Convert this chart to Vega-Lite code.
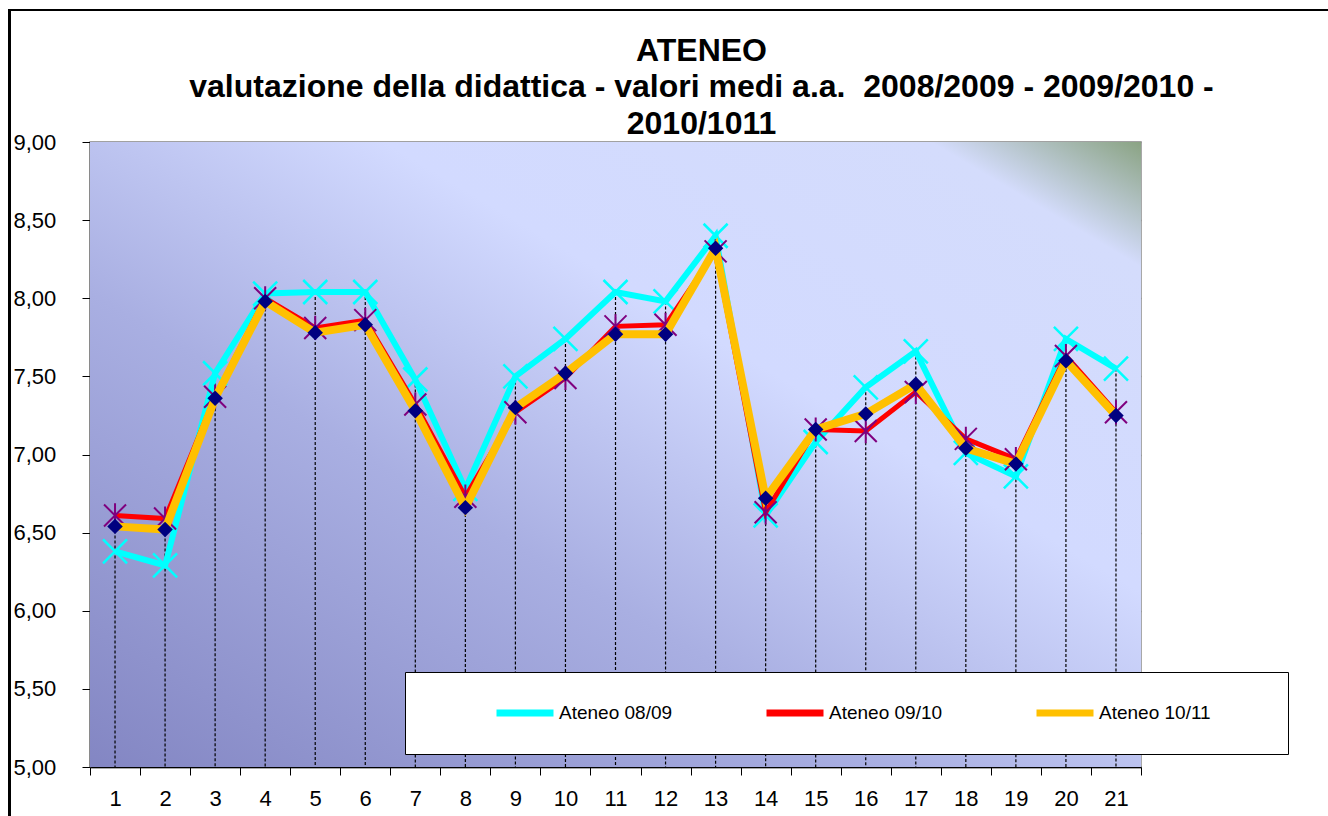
{
  "$schema": "https://vega.github.io/schema/vega-lite/v6.json",
  "autosize": {"type": "none"},
  "padding": {"left": 90, "top": 142, "right": 187, "bottom": 49},
  "width": 1051,
  "height": 625,
  "background": "white",
  "title": {
    "text": ["ATENEO", "valutazione della didattica - valori medi a.a. \u00a02008/2009 - 2009/2010 -", "2010/1011"],
    "font": "Liberation Sans",
    "fontSize": 32,
    "fontWeight": "bold",
    "color": "black",
    "lineHeight": 36.5,
    "anchor": "middle",
    "frame": "group",
    "dx": 86,
    "offset": 0,
    "dy": 132
  },
  "config": {
    "view": {"stroke": "#8c8c8c", "strokeWidth": 1.5},
    "axis": {"labelFont": "Liberation Sans", "titleFont": "Liberation Sans"}
  },
  "datasets": {
    "d": [
      {"x": 1, "serie": "Ateneo 08/09", "v": 6.38}, {"x": 2, "serie": "Ateneo 08/09", "v": 6.29}, {"x": 3, "serie": "Ateneo 08/09", "v": 7.52},
      {"x": 4, "serie": "Ateneo 08/09", "v": 8.03}, {"x": 5, "serie": "Ateneo 08/09", "v": 8.04}, {"x": 6, "serie": "Ateneo 08/09", "v": 8.04},
      {"x": 7, "serie": "Ateneo 08/09", "v": 7.48}, {"x": 8, "serie": "Ateneo 08/09", "v": 6.78}, {"x": 9, "serie": "Ateneo 08/09", "v": 7.50},
      {"x": 10, "serie": "Ateneo 08/09", "v": 7.74}, {"x": 11, "serie": "Ateneo 08/09", "v": 8.04}, {"x": 12, "serie": "Ateneo 08/09", "v": 7.98},
      {"x": 13, "serie": "Ateneo 08/09", "v": 8.40}, {"x": 14, "serie": "Ateneo 08/09", "v": 6.61}, {"x": 15, "serie": "Ateneo 08/09", "v": 7.08},
      {"x": 16, "serie": "Ateneo 08/09", "v": 7.43}, {"x": 17, "serie": "Ateneo 08/09", "v": 7.66}, {"x": 18, "serie": "Ateneo 08/09", "v": 7.01},
      {"x": 19, "serie": "Ateneo 08/09", "v": 6.86}, {"x": 20, "serie": "Ateneo 08/09", "v": 7.74}, {"x": 21, "serie": "Ateneo 08/09", "v": 7.55},
      {"x": 1, "serie": "Ateneo 09/10", "v": 6.61}, {"x": 2, "serie": "Ateneo 09/10", "v": 6.59}, {"x": 3, "serie": "Ateneo 09/10", "v": 7.37},
      {"x": 4, "serie": "Ateneo 09/10", "v": 8.00}, {"x": 5, "serie": "Ateneo 09/10", "v": 7.81}, {"x": 6, "serie": "Ateneo 09/10", "v": 7.86},
      {"x": 7, "serie": "Ateneo 09/10", "v": 7.32}, {"x": 8, "serie": "Ateneo 09/10", "v": 6.73}, {"x": 9, "serie": "Ateneo 09/10", "v": 7.27},
      {"x": 10, "serie": "Ateneo 09/10", "v": 7.49}, {"x": 11, "serie": "Ateneo 09/10", "v": 7.82}, {"x": 12, "serie": "Ateneo 09/10", "v": 7.83},
      {"x": 13, "serie": "Ateneo 09/10", "v": 8.30}, {"x": 14, "serie": "Ateneo 09/10", "v": 6.63}, {"x": 15, "serie": "Ateneo 09/10", "v": 7.16},
      {"x": 16, "serie": "Ateneo 09/10", "v": 7.15}, {"x": 17, "serie": "Ateneo 09/10", "v": 7.40}, {"x": 18, "serie": "Ateneo 09/10", "v": 7.10},
      {"x": 19, "serie": "Ateneo 09/10", "v": 6.97}, {"x": 20, "serie": "Ateneo 09/10", "v": 7.63}, {"x": 21, "serie": "Ateneo 09/10", "v": 7.27},
      {"x": 1, "serie": "Ateneo 10/11", "v": 6.54}, {"x": 2, "serie": "Ateneo 10/11", "v": 6.52}, {"x": 3, "serie": "Ateneo 10/11", "v": 7.36},
      {"x": 4, "serie": "Ateneo 10/11", "v": 7.98}, {"x": 5, "serie": "Ateneo 10/11", "v": 7.78}, {"x": 6, "serie": "Ateneo 10/11", "v": 7.83},
      {"x": 7, "serie": "Ateneo 10/11", "v": 7.28}, {"x": 8, "serie": "Ateneo 10/11", "v": 6.66}, {"x": 9, "serie": "Ateneo 10/11", "v": 7.30},
      {"x": 10, "serie": "Ateneo 10/11", "v": 7.52}, {"x": 11, "serie": "Ateneo 10/11", "v": 7.77}, {"x": 12, "serie": "Ateneo 10/11", "v": 7.77},
      {"x": 13, "serie": "Ateneo 10/11", "v": 8.32}, {"x": 14, "serie": "Ateneo 10/11", "v": 6.72}, {"x": 15, "serie": "Ateneo 10/11", "v": 7.16},
      {"x": 16, "serie": "Ateneo 10/11", "v": 7.26}, {"x": 17, "serie": "Ateneo 10/11", "v": 7.45}, {"x": 18, "serie": "Ateneo 10/11", "v": 7.04},
      {"x": 19, "serie": "Ateneo 10/11", "v": 6.94}, {"x": 20, "serie": "Ateneo 10/11", "v": 7.60}, {"x": 21, "serie": "Ateneo 10/11", "v": 7.25}
    ]
  },
  "data": {"name": "d"},
  "encoding": {
    "x": {
      "field": "x", "type": "quantitative",
      "scale": {"domain": [0.5, 21.5], "nice": false, "zero": false},
      "axis": {
        "title": null,
        "values": [0.5, 1.5, 2.5, 3.5, 4.5, 5.5, 6.5, 7.5, 8.5, 9.5, 10.5, 11.5, 12.5, 13.5, 14.5, 15.5, 16.5, 17.5, 18.5, 19.5, 20.5, 21.5],
        "labelExpr": "datum.value < 21 ? format(datum.value + 0.5, 'd') : ''",
        "labelOffset": 25,
        "labelFlush": false,
        "labelOverlap": false,
        "labelFontSize": 22,
        "labelColor": "black",
        "labelPadding": 13,
        "tickSize": 8,
        "tickColor": "black",
        "domainColor": "black",
        "domainWidth": 1.5,
        "grid": false
      }
    },
    "y": {
      "field": "v", "type": "quantitative",
      "scale": {"domain": [5, 9], "nice": false, "zero": false},
      "axis": {
        "title": null,
        "values": [5, 5.5, 6, 6.5, 7, 7.5, 8, 8.5, 9],
        "labelExpr": "replace(format(datum.value, '.2f'), '.', ',')",
        "labelAlign": "left",
        "labelPadding": 69,
        "labelFontSize": 22,
        "labelColor": "black",
        "tickSize": 8,
        "tickColor": "black",
        "domainColor": "#333333",
        "domainWidth": 1.5,
        "grid": true,
        "gridColor": "#8c8c8c",
        "gridWidth": 1.5
      }
    }
  },
  "layer": [
    {
      "mark": {
        "type": "rect",
        "fill": {
          "gradient": "linear", "x1": 0, "y1": 1, "x2": 1, "y2": 0,
          "stops": [
            {"offset": 0, "color": "#8386c3"},
            {"offset": 0.38, "color": "#a9afe2"},
            {"offset": 0.64, "color": "#d2daff"},
            {"offset": 0.9, "color": "#d4dcfc"},
            {"offset": 1, "color": "#8aa383"}
          ]
        }
      },
      "encoding": {
        "x": {"datum": 0.5, "type": "quantitative"},
        "x2": {"datum": 21.5},
        "y": {"datum": 5, "type": "quantitative"},
        "y2": {"datum": 9}
      }
    },
    {
      "transform": [{"aggregate": [{"op": "max", "field": "v", "as": "vmax"}], "groupby": ["x"]}],
      "mark": {"type": "rule", "color": "black", "strokeWidth": 1.2, "strokeDash": [3, 2]},
      "encoding": {
        "y": {"field": "vmax", "type": "quantitative"},
        "y2": {"datum": 5}
      }
    },
    {
      "transform": [{"filter": "datum.serie == 'Ateneo 08/09'"}],
      "mark": {"type": "line", "strokeWidth": 6},
      "encoding": {
        "color": {
          "field": "serie", "type": "nominal",
          "scale": {"domain": ["Ateneo 08/09", "Ateneo 09/10", "Ateneo 10/11"], "range": ["#00ffff", "#ff0000", "#ffc000"]},
          "legend": {
            "orient": "none",
            "legendX": 315,
            "legendY": 530,
            "direction": "horizontal",
            "fillColor": "white",
            "strokeColor": "black",
            "padding": 29,
            "clipHeight": 24,
            "title": " ",
            "titleOrient": "left",
            "titlePadding": 59,
            "titleFontSize": 18,
            "symbolType": "stroke",
            "symbolSize": 3249,
            "symbolStrokeWidth": 7,
            "labelFont": "Liberation Sans",
            "labelFontSize": 19,
            "labelColor": "black",
            "labelOffset": 2,
            "labelLimit": 400,
            "columnPadding": 90,
            "labelExpr": "indexof(datum.label, '10/11') >= 0 ? datum.label + '\u00a0\u00a0\u00a0\u00a0\u00a0\u00a0\u00a0\u00a0\u00a0\u200b' : datum.label"
          }
        }
      }
    },
    {
      "transform": [{"filter": "datum.serie == 'Ateneo 08/09'"}],
      "mark": {"type": "point", "shape": "M-1,-1L1,1M-1,1L1,-1", "filled": false, "stroke": "#00ffff", "strokeWidth": 2.5, "size": 576, "opacity": 1}
    },
    {
      "transform": [{"filter": "datum.serie == 'Ateneo 09/10'"}],
      "mark": {"type": "line", "strokeWidth": 5},
      "encoding": {"color": {"field": "serie", "type": "nominal"}}
    },
    {
      "transform": [{"filter": "datum.serie == 'Ateneo 09/10'"}],
      "mark": {"type": "point", "shape": "M-1,-1L1,1M-1,1L1,-1M0,-1.1L0,1.1", "filled": false, "stroke": "#7f007f", "strokeWidth": 2, "size": 484, "opacity": 1}
    },
    {
      "transform": [{"filter": "datum.serie == 'Ateneo 10/11'"}],
      "mark": {"type": "line", "strokeWidth": 8},
      "encoding": {"color": {"field": "serie", "type": "nominal"}}
    },
    {
      "transform": [{"filter": "datum.serie == 'Ateneo 10/11'"}],
      "mark": {"type": "point", "shape": "diamond", "filled": true, "fill": "#000080", "strokeWidth": 0, "size": 240, "opacity": 1}
    },
    {
      "mark": {"type": "rect", "fill": null, "stroke": "black", "strokeWidth": 2, "clip": false},
      "encoding": {
        "x": {"datum": -1.1, "type": "quantitative"},
        "x2": {"datum": 30},
        "y": {"datum": 9.845, "type": "quantitative"},
        "y2": {"datum": 3}
      }
    }
  ]
}
